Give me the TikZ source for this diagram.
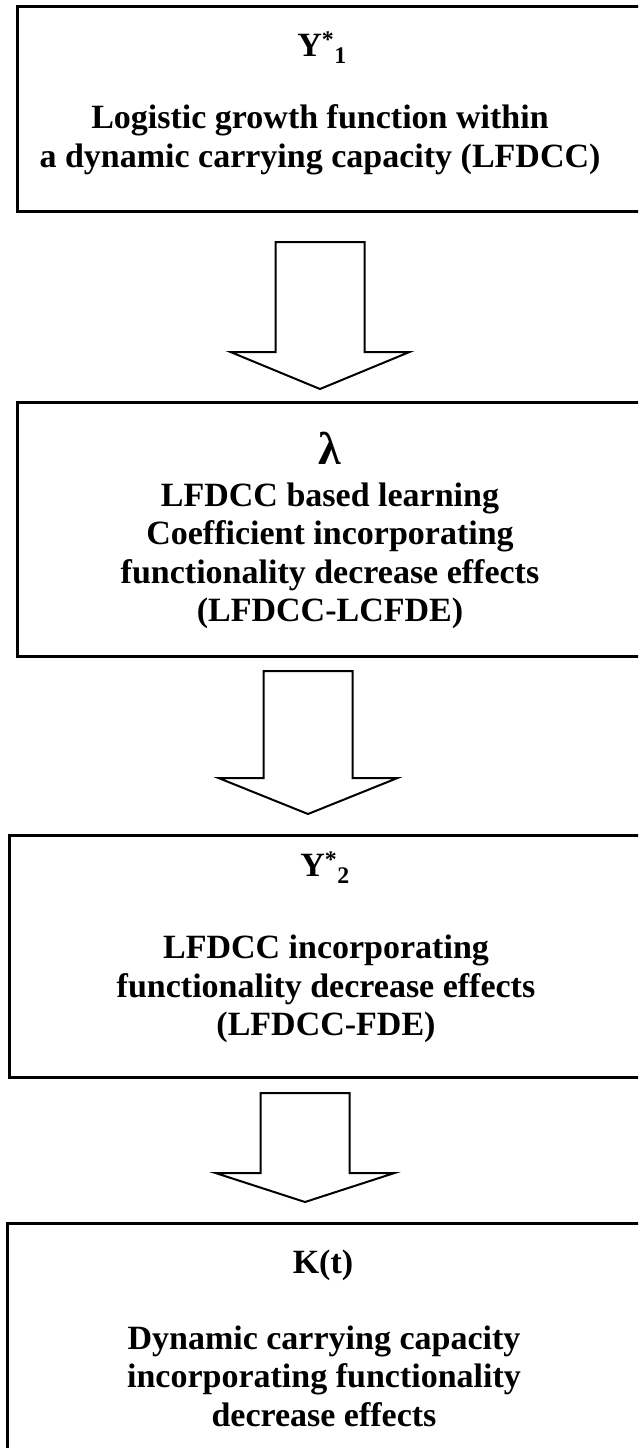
\documentclass[tikz,border=0pt]{standalone}
\usepackage{fontspec}
\setmainfont{Liberation Serif}
\usetikzlibrary{calc}

\tikzset{
  stagebox/.style={draw, line width=3pt, outer sep=0pt, inner sep=0pt, anchor=north west},
  stagetext/.style={font=\fontsize{34}{38.5}\selectfont\bfseries, align=center, inner sep=0pt},
  blockarr/.style={draw, line width=2pt, line join=miter, fill=white}
}

% block arrow: from node, to node, centre x, gap above, gap below, head length
\newcommand{\flowarrow}[6]{%
  \draw[blockarr] let \p1=(#1.south), \p2=(#2.north) in
    (#3-44.5,\y1-#4) -- (#3-44.5,\y2+#5+#6) -- (#3-89.5,\y2+#5+#6) -- (#3,\y2+#5)
    -- (#3+89.5,\y2+#5+#6) -- (#3+44.5,\y2+#5+#6) -- (#3+44.5,\y1-#4) -- cycle;}

\begin{document}
\begin{tikzpicture}[x=1pt,y=-1pt]
  \useasboundingbox (0,0) rectangle (638,1448);
  \clip (0,0) rectangle (638,1448);

  % boxes
  \node[stagebox, minimum width=628, minimum height=205] (box1) at (17,6) {};
  \node[stagebox, minimum width=628, minimum height=254] (box2) at (17,402) {};
  \node[stagebox, minimum width=636, minimum height=242] (box3) at (9,835) {};
  \node[stagebox, minimum width=638, minimum height=300] (box4) at (7,1223) {};

  % texts
  \node[stagetext] (sym1) at (322,48) {Y\textsuperscript{*}\textsubscript{1}};
  \node[stagetext] (txt1) at (320,140) {Logistic growth function within\\a dynamic carrying capacity (LFDCC)};
  \node[stagetext, font=\fontsize{46}{46}\selectfont\bfseries] (sym2) at (330,448) {λ};
  \node[stagetext] (txt2) at (330,556) {LFDCC based learning\\Coefficient incorporating\\functionality decrease effects\\(LFDCC-LCFDE)};
  \node[stagetext] (sym3) at (325,868) {Y\textsuperscript{*}\textsubscript{2}};
  \node[stagetext] (txt3) at (326,989) {LFDCC incorporating\\functionality decrease effects\\(LFDCC-FDE)};
  \node[stagetext] (sym4) at (323,1265) {K(t)};
  \node[stagetext] (txt4) at (324,1376) {Dynamic carrying capacity\\incorporating functionality\\decrease effects};

  % arrows
  \flowarrow{box1}{box2}{320}{31}{13}{37}
  \flowarrow{box2}{box3}{308}{15}{21}{36}
  \flowarrow{box3}{box4}{305}{16}{21}{29}
\end{tikzpicture}
\end{document}
